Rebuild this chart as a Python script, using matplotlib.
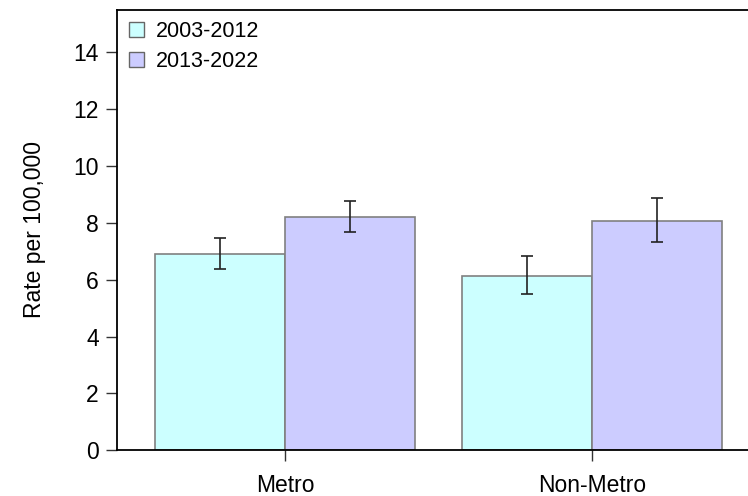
import numpy as np
import matplotlib
matplotlib.use("Agg")
import matplotlib.pyplot as plt

plt.rcParams['font.family'] = ['Liberation Sans', 'DejaVu Sans']

# data
regions = ["Metro", "Non-Metro"]
periods = ["2003-2012", "2013-2022"]
rate_early = [6.92, 6.12]
low_early = [6.37, 5.48]
high_early = [7.48, 6.83]
rate_late = [8.22, 8.07]
low_late = [7.69, 7.34]
high_late = [8.78, 8.88]
colors = ["#CCFFFF", "#CCCCFF"]

fig = plt.figure(figsize=(7.48, 4.96), dpi=100)
ax = fig.add_axes([0.1564, 0.0921, 0.8463, 0.8887])

centers = np.arange(len(regions)) * 2.36
width = 1.0

series = [(rate_early, low_early, high_early), (rate_late, low_late, high_late)]
for i, (vals, lo, hi) in enumerate(series):
    vals = np.array(vals)
    yerr = [vals - np.array(lo), np.array(hi) - vals]
    xpos = centers + (i - 0.5) * width
    ax.bar(xpos, vals, width=width, color=colors[i], edgecolor="#808080",
           linewidth=1.2, label=periods[i], zorder=2)
    ax.errorbar(xpos, vals, yerr=yerr, fmt="none", ecolor="#222222",
                elinewidth=1.2, capsize=4.5, capthick=1.2, zorder=3)

ax.set_xlim(-1.292, 3.577)
ax.set_ylim(0, 15.5)
ax.set_yticks(np.arange(0, 15, 2))
ax.set_xticks(centers)
ax.set_xticklabels(regions)
ax.tick_params(axis="both", labelsize=16.5, length=8, width=1.0, color="#333333")
ax.tick_params(axis="x", pad=9)
ax.tick_params(axis="y", pad=5)
ax.set_ylabel("Rate per 100,000", fontsize=16.5, labelpad=20)

ax.spines["right"].set_visible(False)
for s in ["left", "top", "bottom"]:
    ax.spines[s].set_linewidth(1.3)

leg = ax.legend(loc="upper left", frameon=False, fontsize=15.5,
                handlelength=0.7, handleheight=0.7, handletextpad=0.55,
                labelspacing=0.4, borderaxespad=0.25, borderpad=0.3)
for h in leg.legend_handles:
    h.set_edgecolor("#666666")
    h.set_linewidth(1.0)

fig.savefig("out.png", dpi=100)
